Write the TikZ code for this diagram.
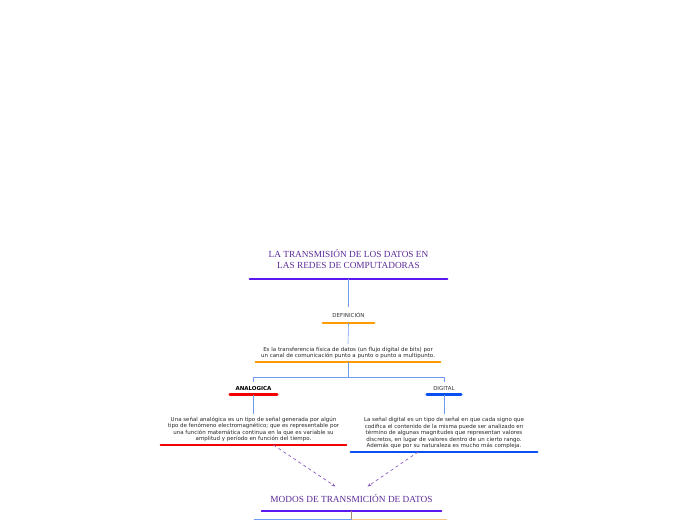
\documentclass[tikz,border=0pt]{standalone}
\usepackage{fontspec}
\setmainfont{DejaVu Sans}
\newfontfamily\titlefont{Liberation Serif}
\usetikzlibrary{arrows.meta}
\definecolor{titlepurple}{HTML}{5B2A96}
\definecolor{barviolet}{HTML}{5A17F0}
\definecolor{barorange}{HTML}{FF9A00}
\definecolor{barred}{HTML}{F20000}
\definecolor{barblue}{HTML}{0A4FF0}
\definecolor{linkblue}{HTML}{6E9BF2}
\definecolor{dashviolet}{HTML}{8A5AC0}
\definecolor{linktan}{HTML}{A88A6A}
\definecolor{lineorange}{HTML}{FAC88A}

\begin{document}
\begin{tikzpicture}[x=1pt,y=-1pt,
	title/.style={font=\titlefont\fontsize{9.3}{11}\selectfont, text=titlepurple, align=center, inner xsep=0pt, inner ysep=8pt},
	topic/.style={font=\fontsize{5.5}{6}\selectfont, text=black!80, inner xsep=0pt, inner ysep=4pt},
	body/.style={font=\fontsize{5.5}{6.5}\selectfont, text=black!85, align=center, inner xsep=0pt, inner ysep=3pt},
	bar/.style={line width=2.6pt, line cap=round},
	link/.style={draw=linkblue, line width=0.6pt},
	dashlink/.style={draw=dashviolet, line width=0.7pt, dashed, -{Stealth[length=4pt,width=3pt]}}]
	\useasboundingbox (0,0) rectangle (696,520);
	% main topic
	\node [title, minimum width=197pt, anchor=south, inner ysep=10pt] (root) at (348.5,279) {LA TRANSMISIÓN DE LOS DATOS EN\\LAS REDES DE COMPUTADORAS};
	\draw [bar, barviolet] (root.south west) -- (root.south east);
	% definicion
	\node [topic, minimum width=51pt, anchor=south, inner ysep=5pt] (def) at (348.5,323) {DEFINICIÓN};
	\draw [bar, barorange] (def.south west) -- (def.south east);
	\draw [link] (root.south) -- (def.north);
	\node [body, minimum width=184pt, anchor=south] (desc) at (348,362) {Es la transferencia física de datos (un flujo digital de bits) por\\un canal de comunicación punto a punto o punto a multipunto.};
	\draw [bar, barorange] (desc.south west) -- (desc.south east);
	\draw [link] (def.south) -- (desc.north);
	% analogica / digital
	\node [topic, minimum width=47pt, font=\fontsize{5.5}{6}\selectfont\bfseries, text=black] (ana) at (253.5,388.5) {ANALOGICA};
	\draw [bar, barred] (ana.south west) -- (ana.south east);
	\node [topic, minimum width=34pt] (dig) at (444,388.5) {DIGITAL};
	\draw [bar, barblue] (dig.south west) -- (dig.south east);
	\draw [link] (desc.south) -- ++(0,15) coordinate (fork);
	\draw [link] (fork) -| (ana.north);
	\draw [link] (fork) -| (dig.north);
	\node [body, minimum width=185pt, anchor=south] (anatext) at (253.5,445) {Una señal analógica es un tipo de señal generada por algún\\tipo de fenómeno electromagnético; que es representable por\\una función matemática continua en la que es variable su\\amplitud y período en función del tiempo.};
	\draw [bar, barred] (anatext.south west) -- (anatext.south east);
	\draw [link] (ana.south) -- (anatext.north);
	\node [body, minimum width=186pt, anchor=south] (digtext) at (444,452) {La señal digital es un tipo de señal en que cada signo que\\codifica el contenido de la misma puede ser analizado en\\término de algunas magnitudes que representan valores\\discretos, en lugar de valores dentro de un cierto rango.\\Además que por su naturaleza es mucho más compleja.};
	\draw [bar, barblue] (digtext.south west) -- (digtext.south east);
	\draw [link] (dig.south) -- (digtext.north);
	% modos
	\node [title, minimum width=179pt, anchor=south] (modos) at (351.5,511) {MODOS DE TRANSMICIÓN DE DATOS};
	\draw [bar, barviolet] (modos.south west) -- (modos.south east);
	\draw [dashlink] ([xshift=20pt]anatext.south) -- ([xshift=-16pt]modos.north);
	\draw [dashlink] ([xshift=-26pt]digtext.south) -- ([xshift=16pt]modos.north);
	\draw [draw=linktan, line width=0.8pt] (modos.south) -- ++(0,8) coordinate (split);
	\coordinate (leftend) at (254,519);
	\coordinate (rightend) at (447,519);
	\draw [link] (split) -- (leftend);
	\draw [draw=lineorange, line width=0.8pt] (split) -- (rightend);
\end{tikzpicture}
\end{document}
